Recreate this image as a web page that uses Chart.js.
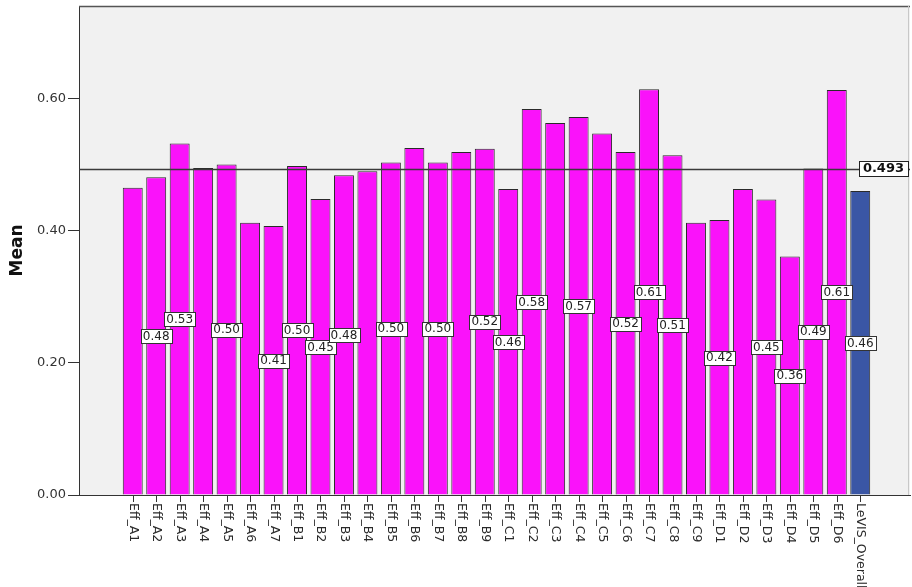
<!DOCTYPE html>
<html><head><meta charset="utf-8">
<script src="https://cdn.jsdelivr.net/npm/chart.js@4/dist/chart.umd.min.js"></script>
<style>html,body{margin:0;padding:0;background:#fff}#wrap{width:912px;height:587px}</style>
</head><body><div id="wrap"><canvas id="c" width="912" height="587"></canvas></div>
<script>
const categories = ['Eff_A1','Eff_A2','Eff_A3','Eff_A4','Eff_A5','Eff_A6','Eff_A7',
  'Eff_B1','Eff_B2','Eff_B3','Eff_B4','Eff_B5','Eff_B6','Eff_B7','Eff_B8','Eff_B9',
  'Eff_C1','Eff_C2','Eff_C3','Eff_C4','Eff_C5','Eff_C6','Eff_C7','Eff_C8','Eff_C9',
  'Eff_D1','Eff_D2','Eff_D3','Eff_D4','Eff_D5','Eff_D6','LeVIS_Overall'];
const means = [0.465,0.481,0.532,0.495,0.500,0.412,0.407,
  0.498,0.448,0.484,0.490,0.503,0.525,0.503,0.519,0.524,
  0.463,0.584,0.563,0.572,0.547,0.519,0.614,0.514,0.412,
  0.416,0.463,0.447,0.361,0.494,0.613,0.460];
const labelShown = [0,1,1,0,1,0,1, 1,1,1,0,1,0,1,0,1, 1,1,0,1,0,1,1,1,0, 1,0,1,1,1,1, 1];
const referenceMean = 0.493;
const referenceLabel = '0.493';
const yTicks = [0.00, 0.20, 0.40, 0.60];
const yMax = 0.74;

const MAGENTA = '#fa12fa', BLUE = '#3a56a5';
const barColors = categories.map(c => c === 'LeVIS_Overall' ? BLUE : MAGENTA);

const decor = {
  id: 'decor',
  beforeDraw(chart) {
    const {ctx, chartArea: a} = chart;
    ctx.save();
    ctx.fillStyle = '#f1f1f1';
    ctx.fillRect(a.left, a.top, a.right - a.left, a.bottom - a.top);
    ctx.restore();
  },
  afterDatasetsDraw(chart) {
    const {ctx, chartArea: a, scales: {x, y}} = chart;
    ctx.save();
    // frame top / right
    ctx.strokeStyle = '#555'; ctx.lineWidth = 1.5;
    ctx.beginPath(); ctx.moveTo(a.left, a.top + 0.5); ctx.lineTo(a.right, a.top + 0.5); ctx.stroke();
    ctx.strokeStyle = '#c8c8c8'; ctx.lineWidth = 1;
    ctx.beginPath(); ctx.moveTo(a.right - 1.5, a.top); ctx.lineTo(a.right - 1.5, a.bottom); ctx.stroke();
    // reference line
    const ry = Math.round(y.getPixelForValue(referenceMean)) + 0.5;
    ctx.strokeStyle = '#3a3a3a'; ctx.lineWidth = 1.5;
    ctx.beginPath(); ctx.moveTo(a.left, ry); ctx.lineTo(a.right, ry); ctx.stroke();
    // bar value labels (middle of bar)
    ctx.font = '12px "DejaVu Sans"';
    ctx.textAlign = 'center'; ctx.textBaseline = 'middle';
    means.forEach((v, i) => {
      if (!labelShown[i]) return;
      const t = v.toFixed(2);
      const cx = x.getPixelForValue(i);
      const cy = y.getPixelForValue(v / 2);
      const w = ctx.measureText(t).width + 4, h = 14;
      ctx.fillStyle = '#fff';
      ctx.fillRect(Math.round(cx - w / 2) + 0.5, Math.round(cy - h / 2) + 0.5, Math.round(w), h);
      ctx.strokeStyle = '#333'; ctx.lineWidth = 1;
      ctx.strokeRect(Math.round(cx - w / 2) + 0.5, Math.round(cy - h / 2) + 0.5, Math.round(w), h);
      ctx.fillStyle = '#222';
      ctx.fillText(t, cx, cy + 0.5);
    });
    // reference label
    ctx.font = 'bold 13px "DejaVu Sans"';
    const rw = ctx.measureText(referenceLabel).width + 8, rh = 15;
    const rx = a.right - 2 - rw;
    ctx.fillStyle = '#fff';
    ctx.fillRect(Math.round(rx) + 0.5, Math.round(ry - rh / 2 - 1) + 0.5, Math.round(rw), rh);
    ctx.strokeStyle = '#222'; ctx.lineWidth = 1;
    ctx.strokeRect(Math.round(rx) + 0.5, Math.round(ry - rh / 2 - 1) + 0.5, Math.round(rw), rh);
    ctx.fillStyle = '#111';
    ctx.fillText(referenceLabel, rx + rw / 2, ry - 0.5);
    // x tick marks and rotated labels
    ctx.strokeStyle = '#333'; ctx.lineWidth = 1;
    ctx.font = '12.5px "DejaVu Sans"';
    ctx.fillStyle = '#2a2a2a';
    ctx.textAlign = 'left'; ctx.textBaseline = 'middle';
    categories.forEach((c, i) => {
      const px = Math.round(x.getPixelForValue(i)) + 0.5;
      ctx.beginPath(); ctx.moveTo(px, a.bottom); ctx.lineTo(px, a.bottom + 7); ctx.stroke();
      ctx.save();
      ctx.translate(px, a.bottom + 8);
      ctx.rotate(Math.PI / 2);
      ctx.fillText(c, 0, 0);
      ctx.restore();
    });
    ctx.restore();
  }
};

new Chart(document.getElementById('c'), {
  type: 'bar',
  data: {
    datasets: [{
      data: means.map((v, i) => ({x: i, y: v})),
      backgroundColor: barColors,
      borderColor: '#2a2a2a',
      borderWidth: 1,
      categoryPercentage: 1,
      barPercentage: 0.85
    }]
  },
  options: {
    responsive: false,
    animation: false,
    layout: {padding: {top: 6, right: 2, left: 0, bottom: 0}},
    plugins: {legend: {display: false}, tooltip: {enabled: false}},
    scales: {
      x: {
        type: 'linear',
        offset: false,
        min: -2.29, max: 33.12,
        grid: {display: false, offset: false},
        ticks: {display: false},
        border: {display: true, color: '#333', width: 1},
        afterFit(s) { s.height = 92; }
      },
      y: {
        min: 0, max: yMax,
        afterBuildTicks(s) { s.ticks = yTicks.map(v => ({value: v})); },
        ticks: {
          callback: v => Number(v).toFixed(2),
          font: {family: 'DejaVu Sans', size: 13},
          color: '#333',
          padding: 2
        },
        grid: {drawOnChartArea: false, drawTicks: true, tickLength: 11, color: '#333'},
        border: {display: true, color: '#333', width: 1},
        title: {display: true, text: 'Mean', font: {family: 'DejaVu Sans', size: 17, weight: 'bold'}, color: '#111', padding: {top: 7, bottom: 4}},
        afterFit(s) { s.width = 79; s.paddingTop = 0; s.paddingBottom = 0; }
      }
    }
  },
  plugins: [decor]
});
</script>
</body></html>
